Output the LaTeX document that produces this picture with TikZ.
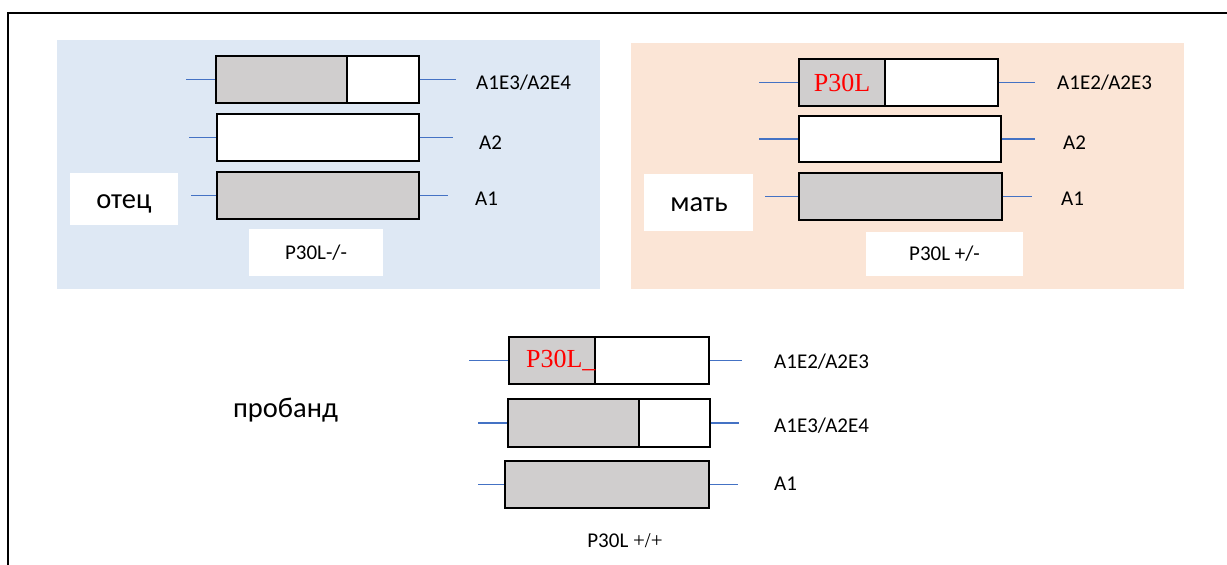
\documentclass[tikz,border=0pt]{standalone}
\usepackage{fontspec}
\setmainfont{Carlito}
\newfontfamily\timesfont{Liberation Serif}
\usetikzlibrary{positioning}
\definecolor{fatherbg}{HTML}{DEE8F4}
\definecolor{motherbg}{HTML}{FBE5D6}
\definecolor{chromgrey}{HTML}{D0CECE}
\definecolor{armblue}{HTML}{4472C4}

\begin{document}
\begin{tikzpicture}[x=1pt, y=-1pt,
  chrom/.style = {draw, line width=1.3pt, fill=white, minimum height=47pt, inner sep=0pt},
  part/.style = {chrom, fill=chromgrey, anchor=west},
  arm/.style = {draw=armblue, line width=1.2pt},
  lbl/.style = {anchor=west, inner sep=0pt, font=\fontsize{21}{25}\selectfont},
  tag/.style = {fill=white, inner sep=0pt, font=\fontsize{21}{25}\selectfont},
  who/.style = {inner sep=0pt, font=\fontsize{28.5}{34}\selectfont},
  mut/.style = {text=red, inner sep=0pt, font=\timesfont\fontsize{26}{30}\selectfont}]
    \useasboundingbox (0,0) rectangle (1227,565);
    % frame and backgrounds
    \draw[line width=1.8pt] (8,580) -- (8,13) -- (1240,13);
    \fill[fatherbg] (57,40) rectangle (600,289);
    \fill[motherbg] (631,43) rectangle (1184,289);

    % father
    \node[chrom, minimum width=203pt] (f1) at (317.5,79.5) {};
    \node[part, minimum width=131pt] (f1g) at (f1.west) {};
    \node[chrom, minimum width=202pt] (f2) at (318,137.5) {};
    \node[chrom, fill=chromgrey, minimum width=202pt] (f3) at (318,195.5) {};
    \coordinate[left=29pt of f1] (f1a);
    \coordinate[right=36pt of f1] (f1b);
    \coordinate[left=27pt of f2] (f2a);
    \coordinate[right=33pt of f2] (f2b);
    \coordinate[left=25pt of f3] (f3a);
    \coordinate[right=28pt of f3] (f3b);
    \draw[arm] (f1a) -- (f1.west) (f1.east) -- (f1b);
    \draw[arm] (f2a) -- (f2.west) (f2.east) -- (f2b);
    \draw[arm] (f3a) -- (f3.west) (f3.east) -- (f3b);
    \node[lbl] (f1t) at (476,83) {A1E3/A2E4};
    \node[lbl] (f2t) at (479,143) {A2};
    \node[lbl] (f3t) at (475,199) {A1};
    \node[tag, minimum width=108pt, minimum height=52pt] (father) at (124,199) {};
    \node[who] (fathertxt) at (124,204) {отец};
    \node[tag, minimum width=134pt, minimum height=47pt] (fgeno) at (316,252.5) {P30L-/-};

    % mother
    \node[chrom, minimum width=199pt] (m1) at (898.5,82.5) {};
    \node[part, mut, minimum width=86pt, minimum height=47pt] (m1g) at (m1.west) {P30L};
    \node[chrom, minimum width=202pt, minimum height=46pt] (m2) at (900,139) {};
    \node[chrom, fill=chromgrey, minimum width=203pt] (m3) at (900.5,196.5) {};
    \coordinate[left=39pt of m1] (m1a);
    \coordinate[right=36pt of m1] (m1b);
    \coordinate[left=39pt of m2] (m2a);
    \coordinate[right=33pt of m2] (m2b);
    \coordinate[left=33pt of m3] (m3a);
    \coordinate[right=29pt of m3] (m3b);
    \draw[arm] (m1a) -- (m1.west) (m1.east) -- (m1b);
    \draw[arm] (m2a) -- (m2.west) (m2.east) -- (m2b);
    \draw[arm] (m3a) -- (m3.west) (m3.east) -- (m3b);
    \node[lbl] (m1t) at (1057,83) {A1E2/A2E3};
    \node[lbl] (m2t) at (1063,143) {A2};
    \node[lbl] (m3t) at (1061,199) {A1};
    \node[tag, minimum width=109pt, minimum height=57pt] (mother) at (698.5,202.5) {};
    \node[who] (mothertxt) at (699,205) {мать};
    \node[tag, minimum width=157pt, minimum height=44pt] (mgeno) at (944.5,254) {P30L +/-};

    % proband
    \node[chrom, minimum width=200pt] (p1) at (609,360.5) {};
    \node[part, minimum width=86pt] (p1g) at (p1.west) {};
    \node[mut, anchor=east] (p1m) at (p1g.east) {P30L\_};
    \node[chrom, minimum width=202pt, minimum height=48pt] (p2) at (609,423) {};
    \node[part, minimum width=131pt, minimum height=48pt] (p2g) at (p2.west) {};
    \node[chrom, fill=chromgrey, minimum width=204pt] (p3) at (607,484.5) {};
    \coordinate[left=39pt of p1] (p1a);
    \coordinate[right=32pt of p1] (p1b);
    \coordinate[left=29pt of p2] (p2a);
    \coordinate[right=28pt of p2] (p2b);
    \coordinate[left=26pt of p3] (p3a);
    \coordinate[right=28pt of p3] (p3b);
    \draw[arm] (p1a) -- (p1.west) (p1.east) -- (p1b);
    \draw[arm] (p2a) -- (p2.west) (p2.east) -- (p2b);
    \draw[arm] (p3a) -- (p3.west) (p3.east) -- (p3b);
    \node[lbl] (p1t) at (774,362) {A1E2/A2E3};
    \node[lbl] (p2t) at (774,426) {A1E3/A2E4};
    \node[lbl] (p3t) at (774,484) {A1};
    \node[who] (proband) at (285.5,410) {пробанд};
    \node[tag] (pgeno) at (625,541) {P30L {\timesfont +/+}};
\end{tikzpicture}
\end{document}
